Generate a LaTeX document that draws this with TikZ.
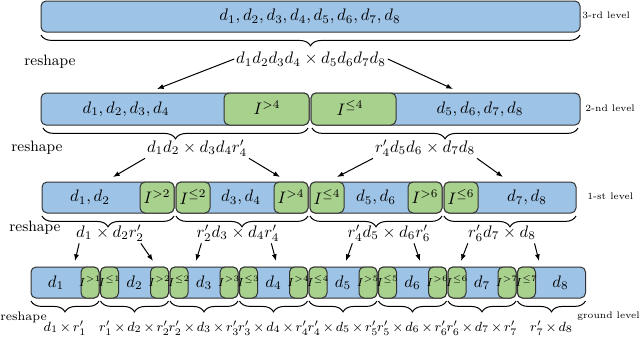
\documentclass[tikz,border=0pt]{standalone}
\usepackage{amsmath}
\usetikzlibrary{arrows.meta,positioning,decorations.pathreplacing,calc}
\definecolor{segblue}{HTML}{9DC3E6}
\definecolor{gategreen}{HTML}{A9D18E}
\definecolor{edgegray}{HTML}{333333}

\tikzset{
  seg/.style={draw=edgegray,fill=segblue,rounded corners=3pt,line width=0.6pt},
  gate/.style={draw=edgegray,fill=gategreen,rounded corners=3pt,line width=0.6pt},
  brc/.style={decorate,decoration={brace,mirror,amplitude=6.5pt},line width=0.6pt},
  lvl/.style={font=\fontsize{5.7}{7}\selectfont,anchor=west,inner sep=0pt},
  rsh/.style={font=\small,inner sep=0pt},
  arr/.style={-{Latex[length=4pt,width=3pt]},line width=0.6pt},
}

\begin{document}
\begin{tikzpicture}[x=0.6pt,y=-0.6pt]
  \useasboundingbox (0,0) rectangle (640,337);

  % 3-rd level
  \draw[seg] (41,1) rectangle (580,32);
  \node (top) at (310,16.5) {$d_1,d_2,d_3,d_4,d_5,d_6,d_7,d_8$};
  \node[lvl] (lv3) at (582,15) {3-rd level};
  \draw[brc] (41,35) -- (580,35);
  \node[rsh] (rs3) at (50,62) {reshape};
  \node[inner sep=1pt] (m3) at (311,59) {$d_1d_2d_3d_4\times d_5d_6d_7d_8$};
  \coordinate (h3a) at (157,89);
  \coordinate (h3b) at (453,89);
  \draw[arr] (m3.west) -- (h3a);
  \draw[arr] (m3.east) -- (h3b);

  % 2-nd level
  \draw[seg] (41,93) rectangle (309,125);
  \draw[gate] (224,93) rectangle (309,125);
  \draw[seg] (311,93) rectangle (580,125);
  \draw[gate] (311,93) rectangle (396,125);
  \node (s2a) at (126,109) {$d_1,d_2,d_3,d_4$};
  \node (s2b) at (267,108) {$I^{>4}$};
  \node (s2c) at (350,108) {$I^{\le 4}$};
  \node (s2d) at (480,109) {$d_5,d_6,d_7,d_8$};
  \node[lvl] (lv2) at (585,108) {2-nd level};
  \draw[brc] (43,128) -- (308,128);
  \draw[brc] (312,128) -- (578,128);
  \node[rsh] (rs2) at (37,148) {reshape};
  \node[inner sep=1pt] (m2a) at (197,148) {$d_1d_2\times d_3d_4r'_4$};
  \node[inner sep=1pt] (m2b) at (425,148) {$r'_4d_5d_6\times d_7d_8$};
  \coordinate (h2a) at (113,177);
  \coordinate (h2b) at (280,177);
  \coordinate (h2c) at (337,177);
  \coordinate (h2d) at (503,177);
  \draw[arr] (m2a.south west) -- (h2a);
  \draw[arr] (m2a.south east) -- (h2b);
  \draw[arr] (m2b.south west) -- (h2c);
  \draw[arr] (m2b.south east) -- (h2d);

  % 1-st level
  \foreach \k in {1,...,4} {
    \pgfmathsetmacro\xa{42+134*(\k-1)}
    \pgfmathsetmacro\xb{\xa+132}
    \draw[seg] (\xa,182) rectangle (\xb,213);
    \draw[brc] (\xa,216) -- (\xb,216);
  }
  \draw[gate] (140,182) rectangle (174,213);
  \draw[gate] (176,182) rectangle (210,213);
  \draw[gate] (274,182) rectangle (308,213);
  \draw[gate] (310,182) rectangle (344,213);
  \draw[gate] (408,182) rectangle (442,213);
  \draw[gate] (444,182) rectangle (478,213);
  \node (s1a) at (90,197.5) {$d_1,d_2$};
  \node (s1b) at (157,197) {$I^{>2}$};
  \node (s1c) at (193,197) {$I^{\le 2}$};
  \node (s1d) at (241,197.5) {$d_3,d_4$};
  \node (s1e) at (291,197) {$I^{>4}$};
  \node (s1f) at (327,197) {$I^{\le 4}$};
  \node (s1g) at (376,197.5) {$d_5,d_6$};
  \node (s1h) at (425,197) {$I^{>6}$};
  \node (s1i) at (461,197) {$I^{\le 6}$};
  \node (s1j) at (527,197.5) {$d_7,d_8$};
  \node[lvl] (lv1) at (587,196) {1-st level};
  \node[rsh] (rs1) at (35,228) {reshape};
  \node[inner sep=1pt] (m1a) at (110,233) {$d_1\times d_2r'_2$};
  \node[inner sep=1pt] (m1b) at (238,233) {$r'_2d_3\times d_4r'_4$};
  \node[inner sep=1pt] (m1c) at (389,233) {$r'_4d_5\times d_6r'_6$};
  \node[inner sep=1pt] (m1d) at (502,233) {$r'_6d_7\times d_8$};
  \coordinate (h1a) at (75,261);
  \coordinate (h1b) at (153,261);
  \coordinate (h1c) at (196,261);
  \coordinate (h1d) at (276,261);
  \coordinate (h1e) at (346,261);
  \coordinate (h1f) at (420,261);
  \coordinate (h1g) at (461,261);
  \coordinate (h1h) at (539,261);
  \draw[arr] ([xshift=3pt]m1a.south west) -- (h1a);
  \draw[arr] ([xshift=-3pt]m1a.south east) -- (h1b);
  \draw[arr] ([xshift=4pt]m1b.south west) -- (h1c);
  \draw[arr] ([xshift=-6pt]m1b.south east) -- (h1d);
  \draw[arr] ([xshift=4pt]m1c.south west) -- (h1e);
  \draw[arr] ([xshift=-11pt]m1c.south east) -- (h1f);
  \draw[arr] ([xshift=1pt]m1d.south west) -- (h1g);
  \draw[arr] ([xshift=-2pt]m1d.south east) -- (h1h);

  % ground level
  \foreach \i in {1,...,8} {
    \pgfmathsetmacro\xa{31+69.5*(\i-1)}
    \pgfmathsetmacro\xb{\xa+68}
    \draw[seg] (\xa,267) rectangle (\xb,298);
    \draw[brc] (\xa,301) -- (\xb,301);
  }
  \foreach \i in {1,...,7} {
    \pgfmathsetmacro\xa{31+69.5*(\i-1)+50}
    \pgfmathsetmacro\xb{\xa+18}
    \pgfmathsetmacro\xl{31+69.5*\i}
    \pgfmathsetmacro\xr{\xl+18}
    \draw[gate] (\xa,267) rectangle (\xb,298);
    \draw[gate] (\xl,267) rectangle (\xr,298);
    \node[font=\scriptsize,inner sep=0pt] (gr\i) at ({(\xa+\xb)/2},281) {$I^{>\i}$};
    \node[font=\scriptsize,inner sep=0pt] (gl\i) at ({(\xl+\xr)/2},281) {$I^{\le\i}$};
  }
  \foreach \i in {1,...,8} {
    \pgfmathtruncatemacro\j{\i-1}
    \pgfmathsetmacro\xc{31+69.5*(\i-1)+34}
    \pgfmathsetmacro\xd{\xc+9*(\i==8)-9*(\i==1)}
    \node (g\i) at (\xd,282.5) {$d_{\i}$};
    \node[font=\footnotesize,inner sep=0pt] (b\i) at (\xc,328)
      {$\medmuskip=2.5mu\ifnum\i>1 r'_{\j}\times\fi d_{\i}\ifnum\i<8\times r'_{\i}\fi$};
  }
  \node[lvl] (lv0) at (577,316) {ground level};
  \node[rsh,font=\fontsize{7.4}{8}\selectfont,anchor=west] (rs0) at (0,317) {reshape};
\end{tikzpicture}
\end{document}
